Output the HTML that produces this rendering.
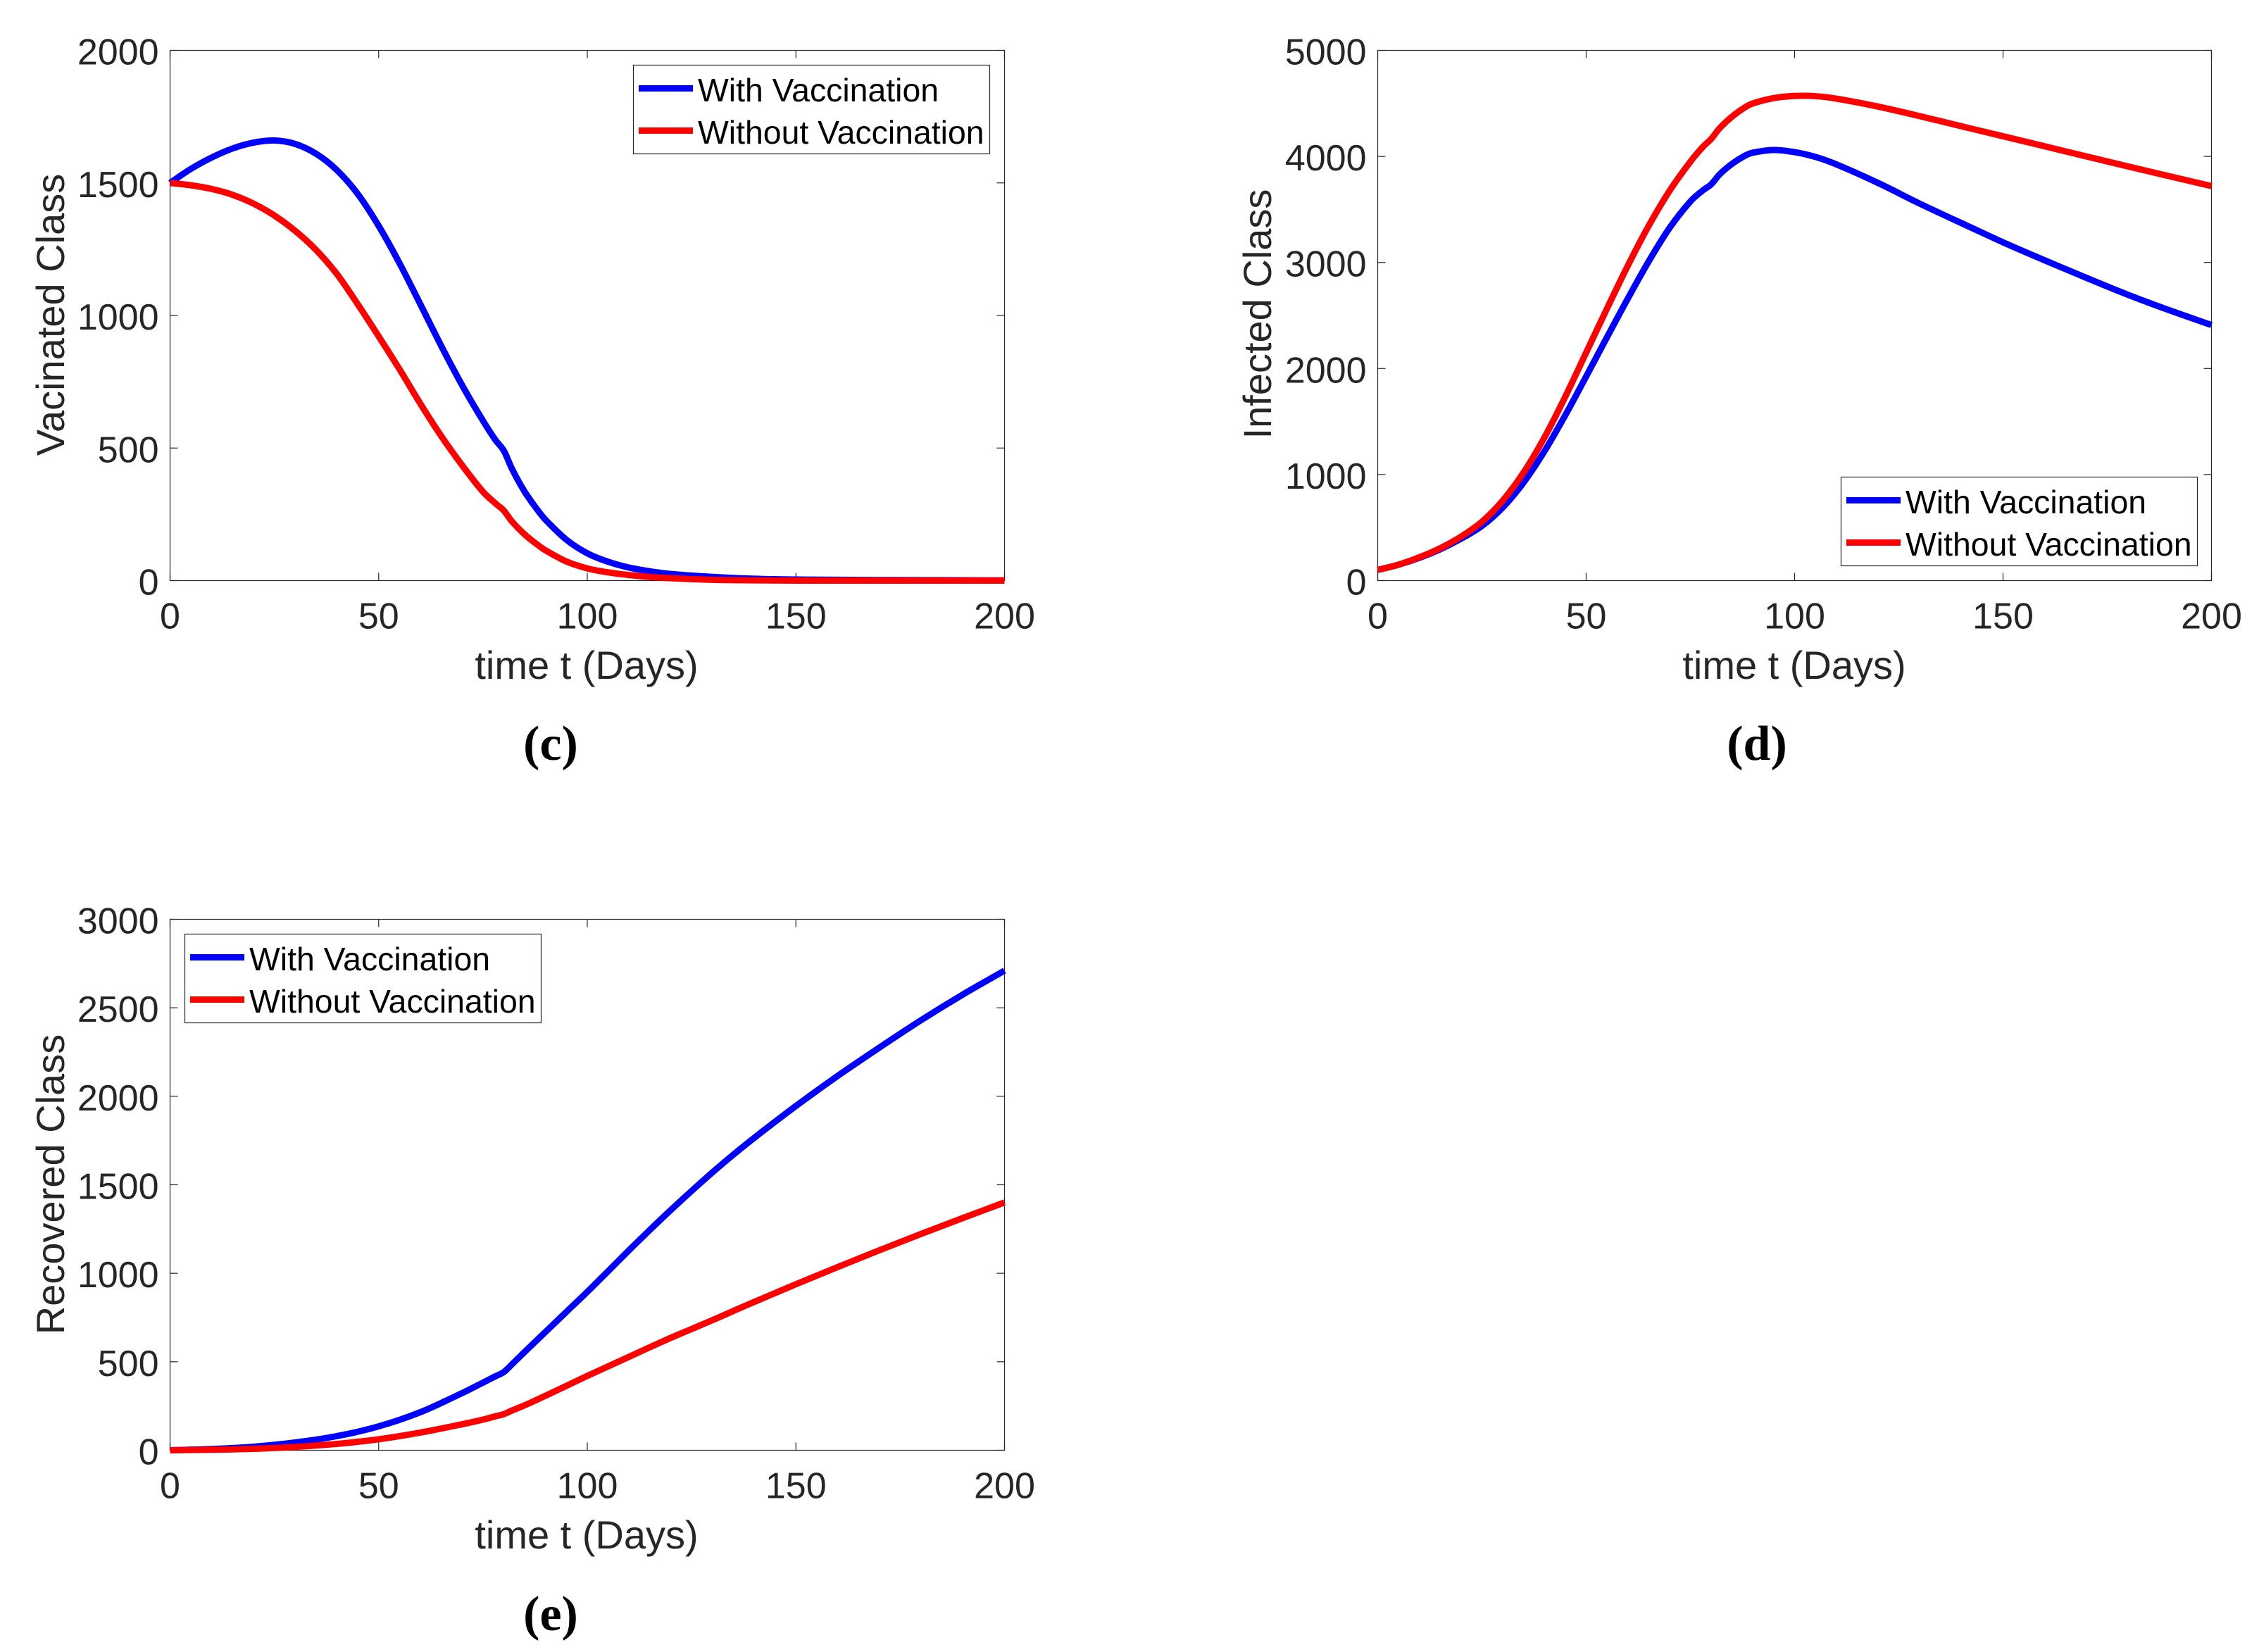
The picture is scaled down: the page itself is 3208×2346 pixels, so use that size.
<!DOCTYPE html>
<html lang="en">
<head>
<meta charset="utf-8">
<title>Vaccination model classes</title>
<style>
html,body{margin:0;padding:0;background:#fff;}
svg{display:block;}
text{font-family:"Liberation Sans",Arial,sans-serif;}
.tick-label{font-size:52px;fill:#262626;}
.axis-title{font-size:56px;fill:#262626;text-anchor:middle;}
.legend-text{font-size:46.4px;fill:#000;}
.caption{font-family:"Liberation Serif",serif;font-size:70px;font-weight:bold;fill:#000;text-anchor:middle;}
</style>
</head>
<body>
<svg id="figure" xmlns="http://www.w3.org/2000/svg" width="3208" height="2346" viewBox="0 0 3208 2346">
<rect x="0" y="0" width="3208" height="2346" fill="#fff"/>

<g id="panel-c">
<g class="marks"></g>
<text class="axis-title" x="833" y="964">time t (Days)</text>
<text class="axis-title" transform="translate(91,447) rotate(-90)">Vacinated Class</text>
<g>
<rect x="899.5" y="92.5" width="506" height="126" fill="#fff" stroke="#262626" stroke-width="1.2"/>
<line x1="907" x2="984" y1="125.5" y2="125.5" stroke="#0000ff" stroke-width="9"/>
<line x1="907" x2="984" y1="185.5" y2="185.5" stroke="#ff0000" stroke-width="9"/>
<text class="legend-text" x="991" y="144">With Vaccination</text>
<text class="legend-text" x="991" y="204">Without Vaccination</text>
</g>
<text class="caption" x="782" y="1079">(c)</text>
</g>

<g id="panel-d">
<g class="marks"></g>
<text class="axis-title" x="2548" y="964">time t (Days)</text>
<text class="axis-title" transform="translate(1805,446) rotate(-90)">Infected Class</text>
<g>
<rect x="2614.5" y="677.5" width="506" height="126" fill="#fff" stroke="#262626" stroke-width="1.2"/>
<line x1="2622" x2="2699" y1="710.5" y2="710.5" stroke="#0000ff" stroke-width="9"/>
<line x1="2622" x2="2699" y1="770.5" y2="770.5" stroke="#ff0000" stroke-width="9"/>
<text class="legend-text" x="2706" y="729">With Vaccination</text>
<text class="legend-text" x="2706" y="789">Without Vaccination</text>
</g>
<text class="caption" x="2495" y="1079">(d)</text>
</g>

<g id="panel-e">
<g class="marks"></g>
<text class="axis-title" x="833" y="2199">time t (Days)</text>
<text class="axis-title" transform="translate(91,1682) rotate(-90)">Recovered Class</text>
<g>
<rect x="262.5" y="1326.5" width="506" height="126" fill="#fff" stroke="#262626" stroke-width="1.2"/>
<line x1="270" x2="347" y1="1359.5" y2="1359.5" stroke="#0000ff" stroke-width="9"/>
<line x1="270" x2="347" y1="1419.5" y2="1419.5" stroke="#ff0000" stroke-width="9"/>
<text class="legend-text" x="354" y="1378">With Vaccination</text>
<text class="legend-text" x="354" y="1438">Without Vaccination</text>
</g>
<text class="caption" x="782" y="2315">(e)</text>
</g>
</svg>

<script>
const xTickLabels = [0, 50, 100, 150, 200];

const vacTicks = [0, 500, 1000, 1500, 2000];
const vacDays = [0, 5, 10, 15, 20, 25, 30, 35, 40, 45, 50, 55, 60, 65, 70, 75, 78, 80, 82, 85, 88, 90, 95, 100, 105, 110, 115, 120, 130, 140, 150, 170, 200];
const vacWith = [1500, 1553, 1596, 1630, 1652, 1660, 1647, 1610, 1548, 1458, 1338, 1197, 1042, 885, 737, 603, 530, 490, 420, 335, 268, 229, 154, 103, 71, 49, 35, 25, 14, 7, 4, 2, 1];
const vacWithout = [1500, 1491, 1477, 1455, 1422, 1377, 1319, 1247, 1156, 1042, 921, 797, 667, 545, 435, 335, 291, 264, 222, 174, 136, 114, 72, 46, 31, 21, 14, 9, 3, 1, 0, 0, 0];

const infTicks = [0, 1000, 2000, 3000, 4000, 5000];
const infDays = [0, 5, 10, 15, 20, 25, 30, 35, 40, 45, 50, 55, 60, 65, 70, 75, 78, 80, 82, 85, 88, 90, 95, 100, 105, 110, 120, 130, 142, 150, 160, 170, 180, 190, 200];
const infWith = [100, 150, 215, 295, 395, 515, 690, 925, 1220, 1560, 1925, 2295, 2660, 3010, 3325, 3575, 3680, 3737, 3830, 3930, 4005, 4035, 4060, 4040, 3995, 3925, 3750, 3555, 3335, 3190, 3020, 2855, 2695, 2548, 2410];
const infWithout = [100, 150, 220, 305, 415, 555, 755, 1020, 1350, 1735, 2150, 2565, 2970, 3345, 3675, 3950, 4090, 4165, 4265, 4375, 4460, 4500, 4550, 4570, 4568, 4545, 4470, 4380, 4265, 4190, 4095, 4000, 3905, 3812, 3720];

const recTicks = [0, 500, 1000, 1500, 2000, 2500, 3000];
const recDays = [0, 10, 20, 30, 40, 50, 60, 70, 75, 78, 80, 82, 85, 90, 95, 100, 105, 110, 115, 120, 125, 130, 135, 140, 150, 160, 170, 180, 190, 200];
const recWith = [0, 7, 20, 44, 80, 135, 215, 323, 382, 418, 442, 487, 556, 669, 782, 895, 1012, 1130, 1245, 1357, 1465, 1570, 1670, 1765, 1945, 2115, 2275, 2430, 2575, 2710];
const recWithout = [0, 3, 8, 19, 36, 62, 100, 147, 173, 192, 204, 225, 254, 308, 364, 420, 474, 528, 582, 635, 685, 735, 787, 838, 938, 1035, 1130, 1222, 1312, 1400];

const SVG_NS = 'http://www.w3.org/2000/svg';

function make(tag, attrs, parent) {
  const el = document.createElementNS(SVG_NS, tag);
  for (const key in attrs) el.setAttribute(key, attrs[key]);
  parent.appendChild(el);
  return el;
}

function linePath(days, values, xScale, yScale) {
  const pts = days.map((d, i) => [xScale(d), yScale(values[i])]);
  const n = pts.length;
  const slopes = pts.map((p, i) => {
    const a = pts[Math.max(i - 1, 0)];
    const b = pts[Math.min(i + 1, n - 1)];
    return (b[1] - a[1]) / (b[0] - a[0]);
  });
  let path = 'M' + pts[0][0].toFixed(2) + ' ' + pts[0][1].toFixed(2);
  for (let i = 0; i < n - 1; i++) {
    const p1 = pts[i];
    const p2 = pts[i + 1];
    const h = (p2[0] - p1[0]) / 3;
    path += 'C' + (p1[0] + h).toFixed(2) + ' ' + (p1[1] + slopes[i] * h).toFixed(2) + ' ' + (p2[0] - h).toFixed(2) + ' ' + (p2[1] - slopes[i + 1] * h).toFixed(2) + ' ' + p2[0].toFixed(2) + ' ' + p2[1].toFixed(2);
  }
  return path;
}

function drawPanel(id, box, yTicks, days, withValues, withoutValues) {
  const root = document.querySelector('#' + id + ' .marks');
  const xMax = xTickLabels[xTickLabels.length - 1];
  const yMax = yTicks[yTicks.length - 1];
  const xScale = v => box.left + (v / xMax) * (box.right - box.left);
  const yScale = v => box.bottom - (v / yMax) * (box.bottom - box.top);
  const ink = '#262626';
  const tickLen = 11;

  xTickLabels.forEach(v => {
    const x = xScale(v);
    const tickBottom = make('line', {x1: x, x2: x, y1: box.bottom, y2: box.bottom - tickLen, stroke: ink, 'stroke-width': 1.2}, root);
    
    
    const tickTop = make('line', {x1: x, x2: x, y1: box.top, y2: box.top + tickLen, stroke: ink, 'stroke-width': 1.2}, root);
    
    
    const label = make('text', {x: x, y: box.bottom + 68, 'text-anchor': 'middle', class: 'tick-label'}, root);
    
    
    label.textContent = v;
  });

  yTicks.forEach(v => {
    const y = yScale(v);
    const tickLeft = make('line', {x1: box.left, x2: box.left + tickLen, y1: y, y2: y, stroke: ink, 'stroke-width': 1.2}, root);
    
    
    const tickRight = make('line', {x1: box.right, x2: box.right - tickLen, y1: y, y2: y, stroke: ink, 'stroke-width': 1.2}, root);
    
    
    const label = make('text', {x: box.left - 16, y: y + 20, 'text-anchor': 'end', class: 'tick-label'}, root);
    
    
    label.textContent = v;
  });

  const frame = make('rect', {x: box.left, y: box.top, width: box.right - box.left, height: box.bottom - box.top, fill: 'none', stroke: ink, 'stroke-width': 1.2}, root);
  
  

  const withLine = make('path', {d: linePath(days, withValues, xScale, yScale), fill: 'none', stroke: '#0000ff', 'stroke-width': 9, 'stroke-linejoin': 'round'}, root);
  
  

  const withoutLine = make('path', {d: linePath(days, withoutValues, xScale, yScale), fill: 'none', stroke: '#ff0000', 'stroke-width': 9, 'stroke-linejoin': 'round'}, root);
  
  
}

drawPanel('panel-c', {left: 241.5, right: 1426.5, top: 71.5, bottom: 824.5}, vacTicks, vacDays, vacWith, vacWithout);
drawPanel('panel-d', {left: 1956.5, right: 3140.5, top: 71.5, bottom: 824.5}, infTicks, infDays, infWith, infWithout);
drawPanel('panel-e', {left: 241.5, right: 1426.5, top: 1305.5, bottom: 2059.5}, recTicks, recDays, recWith, recWithout);
</script>
</body>
</html>
